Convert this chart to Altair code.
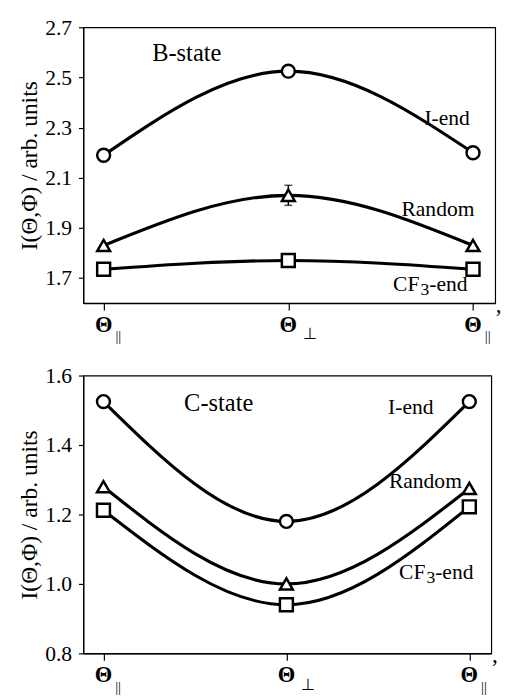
import altair as alt
import pandas as pd

FONT = "Liberation Serif, Times New Roman, serif"

# categories (x positions) and tick label parts
cats = [0, 1, 2]
tick_main = ["Θ", "Θ", "Θ"]
tick_sub = ["||", "⊥", "||"]
series = ["I-end", "Random", "CF3-end"]
shapes = ["circle", "triangle-up", "square"]

# B-state panel
b_iend = [2.19, 2.525, 2.20]
b_random = [1.83, 2.03, 1.83]
b_cf3 = [1.735, 1.77, 1.735]
b_err_x = [1]
b_err_lo = [1.99]
b_err_hi = [2.07]
b_yticks = [1.7, 1.9, 2.1, 2.3, 2.5, 2.7]

# C-state panel
c_iend = [1.525, 1.18, 1.525]
c_random = [1.28, 1.00, 1.275]
c_cf3 = [1.212, 0.94, 1.222]
c_yticks = [0.8, 0.9, 1.0, 1.1, 1.2, 1.3, 1.4, 1.5, 1.6]

XDOM = [-0.11, 2.12]


def text_layer(x, y, text, size, align="center", dx=0, dy=0, weight="normal", xs=None, ys=None):
    df = pd.DataFrame({"x": [x], "y": [y], "t": [text]})
    return alt.Chart(df).mark_text(
        font=FONT, fontSize=size, align=align, baseline="middle", dx=dx, dy=dy,
        color="black", fontWeight=weight
    ).encode(x=alt.X("x:Q", scale=xs), y=alt.Y("y:Q", scale=ys), text="t:N")


def panel(vals, ydom, yticks, w, h, state, state_xy, lab_xy, err=None, left_extent=None):
    rows = []
    for s, v, shp in zip(series, vals, shapes):
        for x, y in zip(cats, v):
            rows.append({"series": s, "x": x, "y": y, "shape": shp})
    df = pd.DataFrame(rows)
    xs = alt.Scale(domain=XDOM, nice=False, zero=False)
    ys = alt.Scale(domain=ydom, nice=False, zero=False)
    X = alt.X("x:Q", scale=xs, axis=alt.Axis(values=cats, labels=False, tickSize=7, title=None,
                                             grid=False, domainColor="black", tickColor="black",
                                             domainWidth=1.2, tickWidth=1.2))
    Y = alt.Y("y:Q", scale=ys, axis=alt.Axis(values=yticks, format=".1f", title="I(Θ,Φ) / arb. units",
                                             grid=False, tickSize=5, labelPadding=7,
                                             labelFont=FONT, labelFontSize=22, labelColor="black",
                                             titleFont=FONT, titleFontSize=24, titleColor="black",
                                             titleFontWeight="normal",
                                             titlePadding=3, domainColor="black",
                                             tickColor="black", domainWidth=1.2, tickWidth=1.2))
    base = alt.Chart(df)
    lines = base.mark_line(interpolate="monotone", color="black", strokeWidth=3.2).encode(
        x=X, y=Y, detail="series:N")
    layers = [lines]
    if err is not None:
        edf = pd.DataFrame({"x": err[0], "lo": err[1], "hi": err[2]})
        eb = alt.Chart(edf)
        layers.append(eb.mark_rule(color="black", strokeWidth=1.5).encode(
            x=alt.X("x:Q", scale=xs), y=alt.Y("lo:Q", scale=ys), y2="hi:Q"))
        layers.append(eb.mark_tick(orient="horizontal", size=8, thickness=1.5, color="black").encode(
            x=alt.X("x:Q", scale=xs), y=alt.Y("lo:Q", scale=ys)))
        layers.append(eb.mark_tick(orient="horizontal", size=8, thickness=1.5, color="black").encode(
            x=alt.X("x:Q", scale=xs), y=alt.Y("hi:Q", scale=ys)))
    pts = base.mark_point(filled=True, fill="white", stroke="black", strokeWidth=2.5,
                          size=175, opacity=1).encode(
        x=alt.X("x:Q", scale=xs), y=alt.Y("y:Q", scale=ys),
        shape=alt.Shape("shape:N", scale=None))
    layers.append(pts)

    # x tick labels
    tdf = pd.DataFrame({"x": cats, "m": tick_main, "s": tick_sub})
    tb = alt.Chart(tdf)
    layers.append(tb.mark_text(font=FONT, fontSize=23, fontWeight="bold", baseline="middle",
                               color="black").encode(
        x=alt.X("x:Q", scale=xs), y=alt.value(h + 22), text="m:N"))
    layers.append(tb.transform_filter("datum.x != 1").mark_text(
        font=FONT, fontSize=15, baseline="middle", color="black", dx=15).encode(
        x=alt.X("x:Q", scale=xs), y=alt.value(h + 34), text="s:N"))
    layers.append(tb.transform_filter("datum.x == 1").mark_text(
        font=FONT, fontSize=16, baseline="middle", color="black", dx=22).encode(
        x=alt.X("x:Q", scale=xs), y=alt.value(h + 32), text="s:N"))
    layers.append(tb.transform_filter("datum.x == 2").transform_calculate(p="'’'").mark_text(
        font=FONT, fontSize=23, baseline="middle", color="black", dx=26).encode(
        x=alt.X("x:Q", scale=xs), y=alt.value(h + 15), text="p:N"))

    # annotations
    layers.append(text_layer(state_xy[0], state_xy[1], state, 25, xs=xs, ys=ys))
    (ix, iy), (rx, ry), (cx, cy) = lab_xy
    layers.append(text_layer(ix, iy, "I-end", 22, xs=xs, ys=ys))
    layers.append(text_layer(rx, ry, "Random", 22, xs=xs, ys=ys))
    layers.append(text_layer(cx, cy, "CF", 22, align="right", xs=xs, ys=ys))
    layers.append(text_layer(cx, cy, "3", 18, align="left", dx=1, dy=6, xs=xs, ys=ys))
    layers.append(text_layer(cx, cy, "-end", 22, align="left", dx=10, xs=xs, ys=ys))

    if left_extent is not None:
        layers.append(tb.mark_rule(strokeOpacity=0).encode(
            x=alt.value(left_extent), x2=alt.value(left_extent + 1),
            y=alt.value(0), y2=alt.value(1)))

    return alt.layer(*layers).properties(width=w, height=h)


top = panel([b_iend, b_random, b_cf3], [1.6, 2.7], b_yticks, 421, 282, "B-state",
            (0.45, 2.595), [(1.86, 2.337), (1.81, 1.975), (1.71, 1.675)],
            err=(b_err_x, b_err_lo, b_err_hi))
bottom = panel([c_iend, c_random, c_cf3], [0.8, 1.6], c_yticks, 417, 284, "C-state",
               (0.63, 1.521), [(1.68, 1.51), (1.76, 1.296), (1.76, 1.034)],
               left_extent=-72)

chart = alt.concat(top, bottom, columns=1, spacing=19, align="none").properties(
    padding={"left": 4, "top": 0, "right": 0, "bottom": 0}
).configure_view(
    stroke="black", strokeWidth=1.2
)

chart.save("out.html", embed_options={"renderer": "svg", "actions": False})
